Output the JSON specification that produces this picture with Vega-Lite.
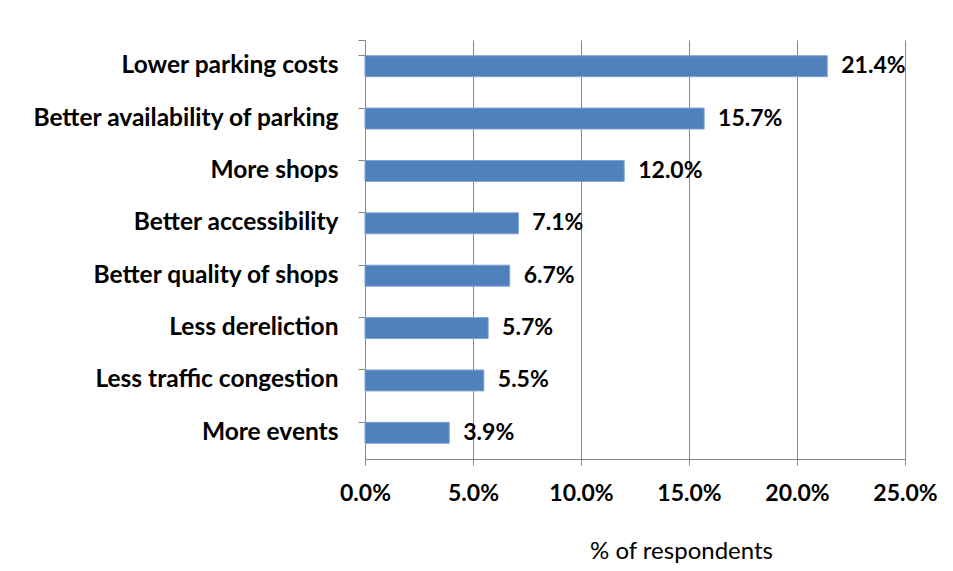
{
  "$schema": "https://vega.github.io/schema/vega-lite/v6.json",
  "autosize": "none",
  "width": 540,
  "height": 419,
  "padding": {"left": 365, "top": 40, "right": 48, "bottom": 112},
  "background": "white",
  "data": {
    "values": [
      {"suggestion": "Lower parking costs", "pct": 0.214},
      {"suggestion": "Better availability of parking", "pct": 0.157},
      {"suggestion": "More shops", "pct": 0.120},
      {"suggestion": "Better accessibility", "pct": 0.071},
      {"suggestion": "Better quality of shops", "pct": 0.067},
      {"suggestion": "Less dereliction", "pct": 0.057},
      {"suggestion": "Less traffic congestion", "pct": 0.055},
      {"suggestion": "More events", "pct": 0.039}
    ]
  },
  "config": {
    "view": {"stroke": null},
    "font": "Lato"
  },
  "encoding": {
    "y": {
      "field": "suggestion",
      "type": "nominal",
      "sort": null,
      "scale": {"paddingInner": 0.6, "paddingOuter": 0.3},
      "axis": {
        "title": null,
        "bandPosition": 0,
        "tickExtra": true,
        "domainColor": "#888888",
        "tickColor": "#888888",
        "tickSize": 7,
        "labelPadding": 20,
        "labelFont": "Lato",
        "labelFontWeight": "bold",
        "labelFontSize": 24.5,
        "labelColor": "black",
        "labelLimit": 400
      }
    },
    "x": {
      "field": "pct",
      "type": "quantitative",
      "scale": {"domain": [0, 0.25], "nice": false},
      "axis": {
        "title": "% of respondents",
        "values": [0, 0.05, 0.1, 0.15, 0.2, 0.25],
        "format": ".1%",
        "labelFlush": false,
        "grid": true,
        "gridColor": "#888888",
        "domainColor": "#888888",
        "tickColor": "#888888",
        "tickSize": 6,
        "labelPadding": 17,
        "labelFont": "Lato",
        "labelFontWeight": "bold",
        "labelFontSize": 23,
        "labelColor": "black",
        "titleFont": "Lato",
        "titleFontSize": 24,
        "titleFontWeight": "normal",
        "titleColor": "black",
        "titleX": 316,
        "titlePadding": 34
      }
    }
  },
  "layer": [
    {
      "mark": {"type": "bar", "color": "#4F81BD", "stroke": "#7FA3D3", "strokeWidth": 1}
    },
    {
      "mark": {"type": "text", "align": "left", "baseline": "middle", "dx": 14, "font": "Lato", "fontWeight": "bold", "fontSize": 23, "color": "black"},
      "encoding": {
        "text": {"field": "pct", "type": "quantitative", "format": ".1%"}
      }
    }
  ]
}
